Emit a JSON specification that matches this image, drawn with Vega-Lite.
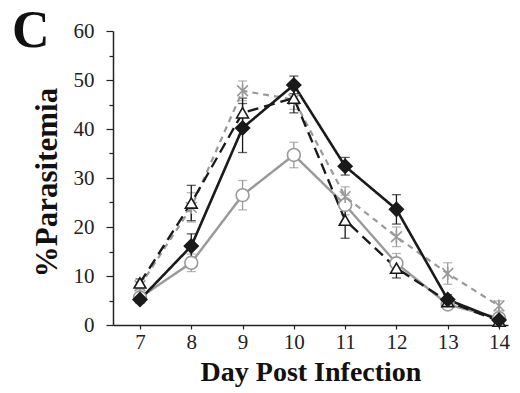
{
  "$schema": "https://vega.github.io/schema/vega-lite/v6.json",
  "width": 395,
  "height": 294,
  "autosize": {"type": "none"},
  "padding": {"left": 113, "top": 31, "right": 12, "bottom": 68},
  "background": "white",
  "title": {"text": "C", "anchor": "start", "frame": "group", "font": "Liberation Serif", "fontSize": 52, "fontWeight": "bold", "color": "#111", "dx": -101, "dy": 38, "offset": 0},
  "data": {"values": [
    {"day": 7, "series": "B", "value": 5.6, "err": 0.8},
    {"day": 8, "series": "B", "value": 12.7, "err": 1.8},
    {"day": 9, "series": "B", "value": 26.5, "err": 3.0},
    {"day": 10, "series": "B", "value": 34.7, "err": 2.6},
    {"day": 11, "series": "B", "value": 24.5, "err": 2.0},
    {"day": 12, "series": "B", "value": 12.6, "err": 2.0},
    {"day": 13, "series": "B", "value": 4.2, "err": 0.8},
    {"day": 14, "series": "B", "value": 1.4, "err": 0.5},
    {"day": 7, "series": "D", "value": 8.0, "err": 0.8},
    {"day": 8, "series": "D", "value": 24.0, "err": 3.0},
    {"day": 9, "series": "D", "value": 47.8, "err": 2.0},
    {"day": 10, "series": "D", "value": 46.0, "err": 2.0},
    {"day": 11, "series": "D", "value": 26.2, "err": 2.0},
    {"day": 12, "series": "D", "value": 18.0, "err": 2.0},
    {"day": 13, "series": "D", "value": 10.5, "err": 2.2},
    {"day": 14, "series": "D", "value": 3.9, "err": 1.0},
    {"day": 7, "series": "C", "value": 8.6, "err": 0.8},
    {"day": 8, "series": "C", "value": 24.9, "err": 3.6},
    {"day": 9, "series": "C", "value": 43.3, "err": 3.0},
    {"day": 10, "series": "C", "value": 46.3, "err": 3.0},
    {"day": 11, "series": "C", "value": 21.4, "err": 3.7},
    {"day": 12, "series": "C", "value": 11.6, "err": 2.0},
    {"day": 13, "series": "C", "value": 4.8, "err": 0.8},
    {"day": 14, "series": "C", "value": 0.8, "err": 0.5},
    {"day": 7, "series": "A", "value": 5.2, "err": 0.8},
    {"day": 8, "series": "A", "value": 16.1, "err": 2.5},
    {"day": 9, "series": "A", "value": 40.2, "err": 5.0},
    {"day": 10, "series": "A", "value": 49.0, "err": 1.8},
    {"day": 11, "series": "A", "value": 32.4, "err": 1.8},
    {"day": 12, "series": "A", "value": 23.6, "err": 3.0},
    {"day": 13, "series": "A", "value": 5.2, "err": 1.0},
    {"day": 14, "series": "A", "value": 1.0, "err": 0.5}
  ]},
  "encoding": {
    "x": {"field": "day", "type": "quantitative",
      "scale": {"domain": [6.474, 14.175], "nice": false, "zero": false},
      "axis": {"values": [7, 8, 9, 10, 11, 12, 13, 14], "title": "Day Post Infection", "grid": false,
        "domainColor": "#222", "domainWidth": 1.5, "tickColor": "#222", "tickSize": 4, "tickWidth": 1.2,
        "labelFont": "Liberation Serif", "labelFontSize": 21, "labelColor": "#222", "labelPadding": 2,
        "titleFont": "Liberation Serif", "titleFontSize": 28, "titleFontWeight": "bold", "titleColor": "#111", "titlePadding": 6}},
    "y": {"field": "value", "type": "quantitative",
      "scale": {"domain": [0, 60], "nice": false},
      "axis": {"values": [0, 5, 10, 15, 20, 25, 30, 35, 40, 45, 50, 55, 60], "title": "%Parasitemia", "grid": false,
        "labelExpr": "datum.value % 10 === 0 ? datum.label : ''",
        "tickSize": {"condition": {"test": "datum.value % 10 === 0", "value": 7}, "value": 4},
        "domainColor": "#222", "domainWidth": 1.5, "tickColor": "#222", "tickWidth": 1.2,
        "labelFont": "Liberation Serif", "labelFontSize": 21, "labelColor": "#222", "labelPadding": 12,
        "titleFont": "Liberation Serif", "titleFontSize": 31, "titleFontWeight": "bold", "titleColor": "#111", "titlePadding": 10, "titleY": 151}}
  },
  "layer": [
    {
      "mark": {"type": "errorbar", "ticks": {"size": 9}, "thickness": 1.3},
      "encoding": {
        "yError": {"field": "err"},
        "color": {"field": "series", "type": "nominal", "legend": null,
          "scale": {"domain": ["A", "B", "C", "D"], "range": ["#1a1a1a", "#9a9a9a", "#1a1a1a", "#9a9a9a"]}}
      }
    },
    {
      "mark": {"type": "line"},
      "encoding": {
        "color": {"field": "series", "type": "nominal", "legend": null,
          "scale": {"domain": ["A", "B", "C", "D"], "range": ["#1a1a1a", "#9a9a9a", "#1a1a1a", "#9a9a9a"]}},
        "strokeDash": {"field": "series", "type": "nominal", "legend": null,
          "scale": {"domain": ["A", "B", "C", "D"], "range": [[1, 0], [1, 0], [11, 6], [6, 5]]}},
        "strokeWidth": {"field": "series", "type": "nominal", "legend": null,
          "scale": {"domain": ["A", "B", "C", "D"], "range": [2.6, 2.2, 2.6, 2.6]}}
      }
    },
    {
      "mark": {"type": "point", "filled": false, "opacity": 1, "strokeWidth": 1.6},
      "encoding": {
        "shape": {"field": "series", "type": "nominal", "legend": null,
          "scale": {"domain": ["A", "B", "C", "D"], "range": ["diamond", "circle", "triangle-up", "M-1,-1L1,1M-1,1L1,-1M0,-1.2L0,1.2"]}},
        "size": {"field": "series", "type": "nominal", "legend": null,
          "scale": {"domain": ["A", "B", "C", "D"], "range": [190, 115, 200, 90]}},
        "stroke": {"field": "series", "type": "nominal", "legend": null,
          "scale": {"domain": ["A", "B", "C", "D"], "range": ["#1a1a1a", "#9a9a9a", "#1a1a1a", "#9a9a9a"]}},
        "fill": {"field": "series", "type": "nominal", "legend": null,
          "scale": {"domain": ["A", "B", "C", "D"], "range": ["#1a1a1a", "#ffffff", "#ffffff", "#9a9a9a"]}}
      }
    }
  ],
  "config": {"view": {"stroke": null}}
}
